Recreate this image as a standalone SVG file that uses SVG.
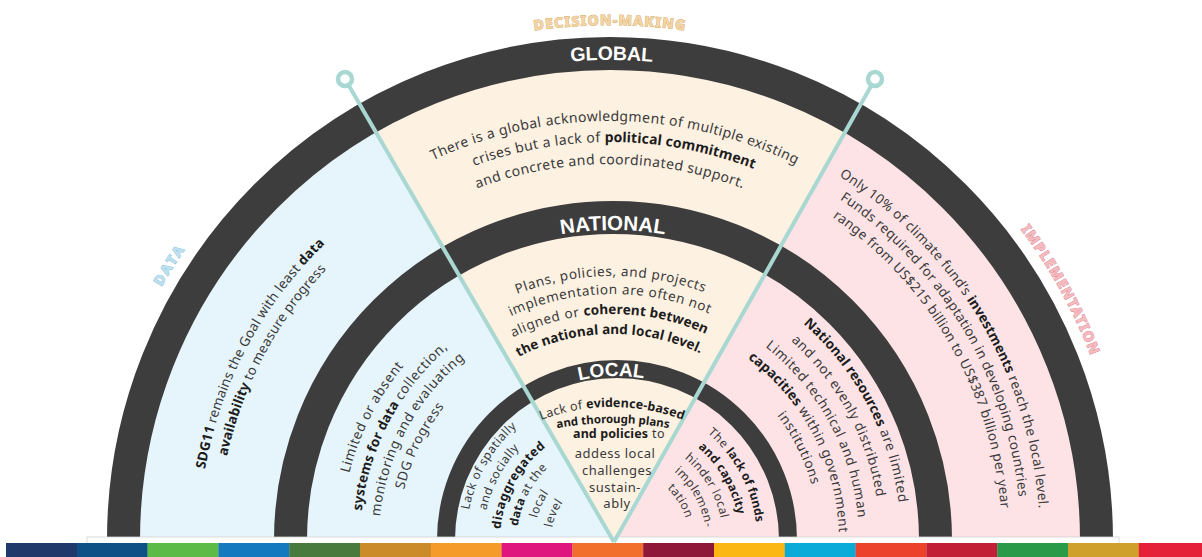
<svg xmlns="http://www.w3.org/2000/svg" width="1202" height="557" viewBox="0 0 1202 557">
  <style>
    .t{font-family:"Noto Sans","DejaVu Sans",sans-serif;font-size:13.5px;letter-spacing:0.6px;fill:#3a3a3a;text-anchor:middle}
    .g{font-size:14px;letter-spacing:0.4px}
    .d{font-size:13.5px;letter-spacing:0.2px}
    .o{font-size:13.5px;letter-spacing:0.3px}
    .n{font-size:13.5px;letter-spacing:0.6px}
    .s{font-size:12px;letter-spacing:0.5px}
    .ls{font-size:12.5px;letter-spacing:0.3px}
    .lm{font-size:13px;letter-spacing:0.5px}
    .b{font-weight:700;fill:#1c1c1c;letter-spacing:0.1px}
    .band{fill:none;stroke:#3d3d3d}
    .lbl{font-family:"Liberation Sans",Arial,sans-serif;font-weight:700;fill:#ffffff;text-anchor:middle}
    .cat{font-family:"Noto Sans","DejaVu Sans",sans-serif;font-weight:800;font-size:14px;letter-spacing:1.2px;text-anchor:middle;stroke-width:0.9px;paint-order:stroke}
    .conn{stroke:#a8d8d1;stroke-width:4;fill:none}
    .pin{fill:#ffffff;stroke:#a8d8d1;stroke-width:4.5}
  </style>
  <defs>
    <!-- arcs over the top, centred on (0,0); texts are rotated onto them -->
    <path id="r515" d="M-515 0A515 515 0 0 1 515 0"/>
    <path id="r480" d="M-480 0A480 480 0 0 1 480 0"/>
    <path id="r430" d="M-430 0A430 430 0 0 1 430 0"/>
    <path id="r419" d="M-419 0A419 419 0 0 1 419 0"/>
    <path id="r411" d="M-411 0A411 411 0 0 1 411 0"/>
    <path id="r398" d="M-398 0A398 398 0 0 1 398 0"/>
    <path id="r392" d="M-392 0A392 392 0 0 1 392 0"/>
    <path id="r376" d="M-376 0A376 376 0 0 1 376 0"/>
    <path id="r310" d="M-310 0A310 310 0 0 1 310 0"/>
    <path id="r300" d="M-300 0A300 300 0 0 1 300 0"/>
    <path id="r288" d="M-288 0A288 288 0 0 1 288 0"/>
    <path id="r272" d="M-272 0A272 272 0 0 1 272 0"/>
    <path id="r267" d="M-267 0A267 267 0 0 1 267 0"/>
    <path id="r264" d="M-264 0A264 264 0 0 1 264 0"/>
    <path id="r253" d="M-253 0A253 253 0 0 1 253 0"/>
    <path id="r246" d="M-246 0A246 246 0 0 1 246 0"/>
    <path id="r234" d="M-234 0A234 234 0 0 1 234 0"/>
    <path id="r226" d="M-226 0A226 226 0 0 1 226 0"/>
    <path id="r215" d="M-215 0A215 215 0 0 1 215 0"/>
    <path id="r206" d="M-206 0A206 206 0 0 1 206 0"/>
    <path id="r200" d="M-200 0A200 200 0 0 1 200 0"/>
    <path id="r164" d="M-164 0A164 164 0 0 1 164 0"/>
    <path id="r151" d="M-151 0A151 151 0 0 1 151 0"/>
    <path id="r140" d="M-140 0A140 140 0 0 1 140 0"/>
    <path id="r134" d="M-134 0A134 134 0 0 1 134 0"/>
    <path id="r123" d="M-123 0A123 123 0 0 1 123 0"/>
    <path id="r117" d="M-117 0A117 117 0 0 1 117 0"/>
    <path id="r106" d="M-106 0A106 106 0 0 1 106 0"/>
    <path id="r100" d="M-100 0A100 100 0 0 1 100 0"/>
    <path id="r89" d="M-89 0A89 89 0 0 1 89 0"/>
    <path id="r83" d="M-83 0A83 83 0 0 1 83 0"/>
    <path id="r72" d="M-72 0A72 72 0 0 1 72 0"/>
    <path id="r66" d="M-66 0A66 66 0 0 1 66 0"/>
    <clipPath id="disk">
      <path d="M120 545L120 540A490 490 0 0 1 1100 540L1100 545Z"/>
    </clipPath>
  </defs>

  <rect width="1202" height="557" fill="#ffffff"/>

  <!-- sector fills -->
  <g id="sectors" clip-path="url(#disk)">
    <polygon points="0,0 299,0 614,542 0,542" fill="#e6f4fb"/>
    <polygon points="299,0 919.5,0 614,542" fill="#fdf1e2"/>
    <polygon points="919.5,0 1202,0 1202,542 614,542" fill="#fde3e6"/>
  </g>

  <!-- level rings -->
  <g id="global-ring">
    <path class="band" stroke-width="33" d="M123.5 540A486.5 486.5 0 0 1 1096.5 540"/>
    <text class="lbl" font-size="19.5" transform="translate(610 540) rotate(0.2)"><textPath href="#r480" startOffset="50%">GLOBAL</textPath></text>
  </g>
  <g id="national-ring">
    <path class="band" stroke-width="33" d="M290.5 540A322.5 322.5 0 0 1 935.5 540"/>
    <text class="lbl" font-size="20.5" transform="translate(613 540)"><textPath href="#r310" startOffset="50%">NATIONAL</textPath></text>
  </g>
  <g id="local-ring">
    <path class="band" stroke-width="18" d="M446 540A171 171 0 0 1 788 540"/>
    <text class="lbl" font-size="19" transform="translate(617 540) rotate(-2)"><textPath href="#r164" startOffset="50%">LOCAL</textPath></text>
  </g>

  <!-- bottom strip -->
  <rect id="base-strip" x="87" y="537" width="1032" height="10" fill="#ffffff" stroke="#d2d2d2" stroke-width="0.8"/>

  <!-- dividers -->
  <g id="connectors">
    <line class="conn" x1="345" y1="79" x2="614" y2="542"/>
    <line class="conn" x1="875" y1="79" x2="614" y2="542"/>
    <circle class="pin" cx="345" cy="79" r="7"/>
    <circle class="pin" cx="875" cy="79" r="7"/>
  </g>

  <!-- category labels -->
  <g id="label-decision">
    <text class="cat" fill="#f3d6a6" stroke="#d6a866" transform="translate(610 540)"><textPath href="#r515" startOffset="50%">DECISION-MAKING</textPath></text>
  </g>
  <g id="label-data">
    <text class="cat" fill="#bfe0ee" stroke="#8cc2da" style="letter-spacing:2.5px" transform="translate(610 540) rotate(-58)"><textPath href="#r515" startOffset="50%">DATA</textPath></text>
  </g>
  <g id="label-implementation">
    <text class="cat" fill="#f5bcc1" stroke="#de8690" transform="translate(610 540) rotate(61)"><textPath href="#r515" startOffset="50%">IMPLEMENTATION</textPath></text>
  </g>

  <!-- decision-making texts -->
  <g id="global-decision">
    <text class="t g" transform="translate(610 540) rotate(0.7)"><textPath href="#r419" startOffset="50%">There is a global acknowledgment of multiple existing</textPath></text>
    <text class="t g" transform="translate(610 540) rotate(0.6)"><textPath href="#r398" startOffset="50%">crises but a lack of <tspan class="b">political commitment</tspan></textPath></text>
    <text class="t g" transform="translate(610 540)"><textPath href="#r376" startOffset="50%">and concrete and coordinated support.</textPath></text>
  </g>
  <g id="national-decision">
    <text class="t n" transform="translate(613 540) rotate(-0.5)"><textPath href="#r264" startOffset="50%">Plans, policies, and projects</textPath></text>
    <text class="t n" transform="translate(613 540) rotate(-0.7)"><textPath href="#r246" startOffset="50%">implementation are often not</textPath></text>
    <text class="t n" transform="translate(613 540) rotate(-1)"><textPath href="#r226" startOffset="50%">aligned or <tspan class="b">coherent between</tspan></textPath></text>
    <text class="t n b" transform="translate(613 540) rotate(-1.1)"><textPath href="#r206" startOffset="50%">the national and local level.</textPath></text>
  </g>
  <g id="local-decision">
    <text class="t ls" transform="translate(612 607)"><textPath href="#r200" startOffset="50%">Lack of <tspan class="b">evidence-based</tspan></textPath></text>
    <text class="t b" style="font-size:11.5px;letter-spacing:0px" transform="translate(613 723)"><textPath href="#r300" startOffset="50%">and thorough plans</textPath></text>
    <text class="t" style="font-size:12.5px;letter-spacing:0.5px" x="619" y="438"><tspan class="b">and policies</tspan> to</text>
    <text class="t lm" x="615" y="458">addess local</text>
    <text class="t lm" x="617" y="475">challenges</text>
    <text class="t lm" x="615" y="492">sustain-</text>
    <text class="t lm" x="617" y="508">ably</text>
  </g>

  <!-- data texts -->
  <g id="global-data">
    <text class="t d" transform="translate(610 540) rotate(-62)"><textPath href="#r411" startOffset="50%"><tspan class="b">SDG11</tspan> remains the Goal with least <tspan class="b">data</tspan></textPath></text>
    <text class="t d" transform="translate(610 540) rotate(-62)"><textPath href="#r392" startOffset="50%"><tspan class="b">availability</tspan> to measure progress</textPath></text>
  </g>
  <g id="national-data">
    <text class="t" transform="translate(613 540) rotate(-63)"><textPath href="#r272" startOffset="50%">Limited or absent</textPath></text>
    <text class="t" transform="translate(613 540) rotate(-62)"><textPath href="#r253" startOffset="50%"><tspan class="b">systems for data</tspan> collection,</textPath></text>
    <text class="t" transform="translate(613 540) rotate(-61.7)"><textPath href="#r234" startOffset="50%">monitoring and evaluating</textPath></text>
    <text class="t" transform="translate(613 540) rotate(-64)"><textPath href="#r215" startOffset="50%">SDG Progress</textPath></text>
  </g>
  <g id="local-data">
    <text class="t s" transform="translate(617 540) rotate(-60)"><textPath href="#r151" startOffset="50%">Lack of spatially</textPath></text>
    <text class="t s" transform="translate(617 540) rotate(-62)"><textPath href="#r134" startOffset="50%">and socially</textPath></text>
    <text class="t b" style="font-size:12.5px;letter-spacing:0.5px" transform="translate(617 540) rotate(-61)"><textPath href="#r117" startOffset="50%">disaggregated</textPath></text>
    <text class="t s" transform="translate(617 540) rotate(-63)"><textPath href="#r100" startOffset="50%"><tspan class="b">data</tspan> at the</textPath></text>
    <text class="t s" transform="translate(617 540) rotate(-65)"><textPath href="#r83" startOffset="50%">local</textPath></text>
    <text class="t s" transform="translate(617 540) rotate(-67)"><textPath href="#r66" startOffset="50%">level</textPath></text>
  </g>

  <!-- implementation texts -->
  <g id="global-implementation">
    <text class="t o" transform="translate(610 540) rotate(59)"><textPath href="#r430" startOffset="50%">Only 10% of climate fund’s <tspan class="b">investments</tspan> reach the local level.</textPath></text>
    <text class="t o" transform="translate(610 540) rotate(59)"><textPath href="#r411" startOffset="50%">Funds required for adaptation in developing countries</textPath></text>
    <text class="t o" transform="translate(610 540) rotate(60)"><textPath href="#r392" startOffset="50%">range from US$215 billion to US$387 billion per year</textPath></text>
  </g>
  <g id="national-implementation">
    <text class="t" transform="translate(613 540) rotate(62)"><textPath href="#r288" startOffset="50%"><tspan class="b">National resources</tspan> are limited</textPath></text>
    <text class="t" transform="translate(613 540) rotate(61.3)"><textPath href="#r267" startOffset="50%">and not evenly distributed</textPath></text>
    <text class="t" transform="translate(613 540) rotate(61.6)"><textPath href="#r246" startOffset="50%">Limited technical and human</textPath></text>
    <text class="t" transform="translate(613 540) rotate(62.4)"><textPath href="#r226" startOffset="50%"><tspan class="b">capacities</tspan> within government</textPath></text>
    <text class="t" transform="translate(613 540) rotate(63.7)"><textPath href="#r206" startOffset="50%">institutions</textPath></text>
  </g>
  <g id="local-implementation">
    <text class="t s" transform="translate(617 540) rotate(61.5)"><textPath href="#r140" startOffset="50%">The <tspan class="b">lack of funds</tspan></textPath></text>
    <text class="t b" style="font-size:12px;letter-spacing:0.3px" transform="translate(617 540) rotate(59.7)"><textPath href="#r123" startOffset="50%">and capacity</textPath></text>
    <text class="t s" transform="translate(617 540) rotate(59)"><textPath href="#r106" startOffset="50%">hinder local</textPath></text>
    <text class="t s" transform="translate(617 540) rotate(61)"><textPath href="#r89" startOffset="50%">implemen-</textPath></text>
    <text class="t s" transform="translate(617 540) rotate(58.5)"><textPath href="#r72" startOffset="50%">tation</textPath></text>
  </g>

  <!-- SDG colour bar -->
  <g id="sdg-bar">
    <rect x="6" y="543" width="71" height="14" fill="#20396a"/>
    <rect x="76.8" y="543" width="71" height="14" fill="#0e5186"/>
    <rect x="147.6" y="543" width="71" height="14" fill="#5bbb46"/>
    <rect x="218.4" y="543" width="71" height="14" fill="#1479bf"/>
    <rect x="289.2" y="543" width="71" height="14" fill="#477a3c"/>
    <rect x="360" y="543" width="71" height="14" fill="#cc8b29"/>
    <rect x="430.8" y="543" width="71" height="14" fill="#f59b29"/>
    <rect x="501.6" y="543" width="71" height="14" fill="#e0167f"/>
    <rect x="572.4" y="543" width="71" height="14" fill="#f16f2a"/>
    <rect x="643.2" y="543" width="71" height="14" fill="#8f1838"/>
    <rect x="714" y="543" width="71" height="14" fill="#fbb714"/>
    <rect x="784.8" y="543" width="71" height="14" fill="#0aabd8"/>
    <rect x="855.6" y="543" width="71" height="14" fill="#ec412b"/>
    <rect x="926.4" y="543" width="71" height="14" fill="#c21f37"/>
    <rect x="997.2" y="543" width="71" height="14" fill="#289a48"/>
    <rect x="1068" y="543" width="71" height="14" fill="#d0a02d"/>
    <rect x="1138.8" y="543" width="64" height="14" fill="#e52039"/>
  </g>
</svg>
